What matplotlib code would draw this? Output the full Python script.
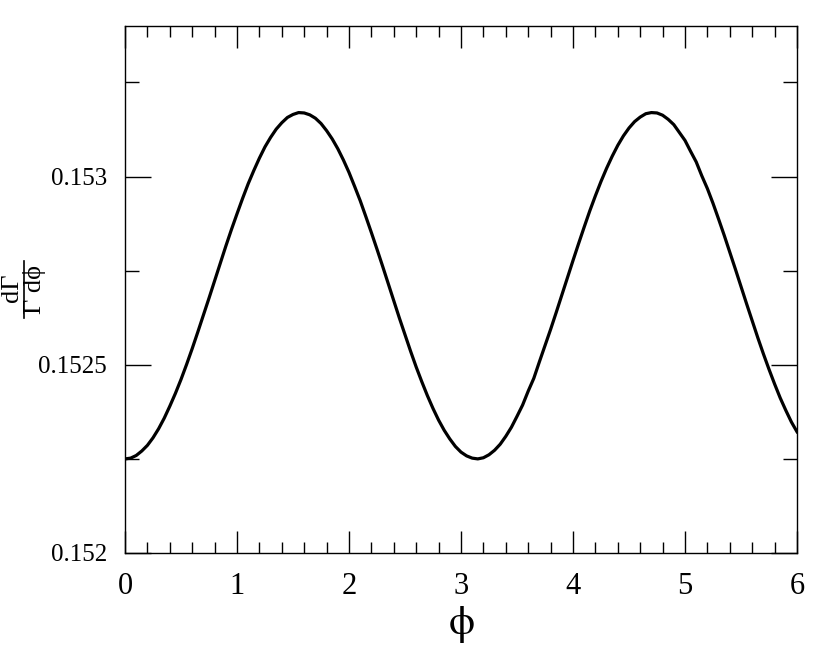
import matplotlib
matplotlib.use("Agg")
import matplotlib.pyplot as plt
from matplotlib.lines import Line2D
from matplotlib.ticker import MultipleLocator, FixedLocator

phi = [round(0.05 * i, 2) for i in range(121)]
rate = [
    0.152250, 0.152252, 0.152259, 0.152271, 0.152286, 0.152306, 0.152330, 0.152358,
    0.152390, 0.152424, 0.152461, 0.152501, 0.152543, 0.152587, 0.152632, 0.152677,
    0.152723, 0.152769, 0.152815, 0.152859, 0.152901, 0.152942, 0.152981, 0.153016,
    0.153049, 0.153079, 0.153104, 0.153126, 0.153143, 0.153157, 0.153165, 0.153170,
    0.153169, 0.153164, 0.153155, 0.153141, 0.153122, 0.153100, 0.153074, 0.153044,
    0.153011, 0.152974, 0.152936, 0.152894, 0.152851, 0.152807, 0.152762, 0.152716,
    0.152670, 0.152624, 0.152580, 0.152536, 0.152494, 0.152455, 0.152418, 0.152384,
    0.152353, 0.152326, 0.152303, 0.152283, 0.152268, 0.152258, 0.152252, 0.152250,
    0.152253, 0.152261, 0.152273, 0.152289, 0.152310, 0.152334, 0.152363, 0.152393,
    0.152430, 0.152464, 0.152508, 0.152551, 0.152594, 0.152639, 0.152685, 0.152731,
    0.152777, 0.152822, 0.152866, 0.152909, 0.152949, 0.152987, 0.153022, 0.153054,
    0.153083, 0.153108, 0.153129, 0.153146, 0.153158, 0.153167, 0.153170, 0.153169,
    0.153163, 0.153152, 0.153138, 0.153117, 0.153096, 0.153067, 0.153039, 0.153002,
    0.152968, 0.152929, 0.152887, 0.152844, 0.152799, 0.152754, 0.152708, 0.152662,
    0.152617, 0.152572, 0.152529, 0.152488, 0.152449, 0.152412, 0.152379, 0.152348,
    0.152322,
]
xticks = [0, 1, 2, 3, 4, 5, 6]
yticks = [0.152, 0.1525, 0.153]
ytick_labels = ["0.152", "0.1525", "0.153"]

plt.rcParams["font.family"] = ["Liberation Serif", "DejaVu Serif"]
plt.rcParams["mathtext.fontset"] = "stix"

W, H = 830, 659
fig = plt.figure(figsize=(8.3, 6.59), dpi=100)
ax = fig.add_axes([125 / W, 1 - 553 / H, (797 - 125) / W, (553 - 26) / H])

ax.plot(phi, rate, color="black", linewidth=2.3, solid_joinstyle="round")

ax.set_xlim(0, 6)
ax.set_ylim(0.152, 0.1534)
ax.xaxis.set_major_locator(FixedLocator(xticks))
ax.xaxis.set_minor_locator(MultipleLocator(0.2))
ax.yaxis.set_major_locator(FixedLocator(yticks))
ax.yaxis.set_minor_locator(MultipleLocator(0.00025))
ax.set_xticklabels([str(t) for t in xticks])
ax.set_yticklabels(ytick_labels)

ax.tick_params(which="both", direction="in", top=True, right=True, color="black", width=1.0)
ax.tick_params(axis="x", which="major", length=16, labelsize=22, pad=14)
ax.tick_params(axis="x", which="minor", length=8)
ax.tick_params(axis="y", which="major", length=19, labelsize=18, pad=13)
ax.tick_params(axis="y", which="minor", length=10)
for s in ax.spines.values():
    s.set_linewidth(1.0)

ax.set_xlabel(r"$\mathrm{\phi}$", fontsize=30, labelpad=2)

# y-axis label: fraction dGamma / (Gamma dphi), rotated
fam = ["Liberation Serif", "DejaVu Serif"]
fig.text(12 / W, 1 - 288 / H, "dΓ", family=fam,
         fontsize=19, rotation=90, ha="center", va="center")
fig.text(35 / W, 1 - 289 / H, "Γ dϕ", family=fam,
         fontsize=19, rotation=90, ha="center", va="center")
fig.add_artist(Line2D([23.5 / W, 23.5 / W], [1 - 261 / H, 1 - 318 / H],
                      transform=fig.transFigure, color="black", linewidth=1.2))

fig.savefig("out.png", dpi=100)
